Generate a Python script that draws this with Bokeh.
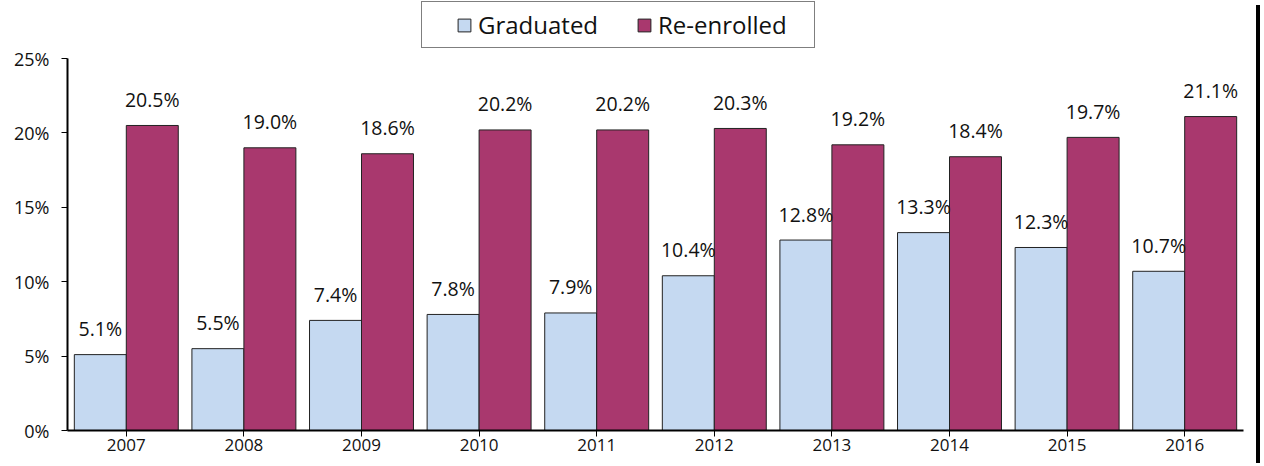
from bokeh.plotting import figure
from bokeh.models import (ColumnDataSource, Legend, LegendItem, PrintfTickFormatter,
                          FixedTicker, FactorRange, Range1d, Div)
from bokeh.transform import dodge
from bokeh.layouts import row
from bokeh.embed import file_html
from bokeh.resources import INLINE
from bokeh.core.properties import value

years = ["2007", "2008", "2009", "2010", "2011", "2012", "2013", "2014", "2015", "2016"]
graduated = [5.1, 5.5, 7.4, 7.8, 7.9, 10.4, 12.8, 13.3, 12.3, 10.7]
reenrolled = [20.5, 19.0, 18.6, 20.2, 20.2, 20.3, 19.2, 18.4, 19.7, 21.1]
series_names = ["Graduated", "Re-enrolled"]
colors = ["#C5D9F1", "#A9386E"]
y_ticks = [0, 5, 10, 15, 20, 25]

FONT = "Open Sans"

src = ColumnDataSource(dict(
    year=years,
    g=graduated,
    r=reenrolled,
    gl=[f"{v:.1f}%" for v in graduated],
    rl=[f"{v:.1f}%" for v in reenrolled],
))

p = figure(
    x_range=FactorRange(factors=years, range_padding=0),
    y_range=Range1d(0, 28.90),
    width=1251, height=458,
    output_backend="svg", toolbar_location=None,
    min_border_left=67, min_border_right=8, min_border_top=0, min_border_bottom=28,
)
p.outline_line_color = None
p.xgrid.grid_line_color = None
p.ygrid.grid_line_color = None
p.background_fill_color = "white"
p.border_fill_color = "white"

bw = 0.442
r1 = p.vbar(x=dodge("year", -bw / 2, range=p.x_range), top="g", width=bw, source=src,
            fill_color=colors[0], line_color="#222222", line_width=1)
r2 = p.vbar(x=dodge("year", bw / 2, range=p.x_range), top="r", width=bw, source=src,
            fill_color=colors[1], line_color="#222222", line_width=1)

for col, lab, off in (("g", "gl", -bw / 2), ("r", "rl", bw / 2)):
    p.text(x=dodge("year", off, range=p.x_range), y=col, text=lab, source=src,
           text_align="center", text_baseline="alphabetic", y_offset=-26,
           text_font=value(FONT), text_font_size="19.5px", text_color="#111111")

# axes
p.yaxis.ticker = FixedTicker(ticks=y_ticks)
p.yaxis.bounds = (0, 25)
p.yaxis.formatter = PrintfTickFormatter(format="%d%%")
for ax in (p.xaxis[0], p.yaxis[0]):
    ax.axis_line_color = "black"
    ax.axis_line_width = 2
    ax.major_tick_line_color = "black"
    ax.major_tick_line_width = 1
    ax.major_tick_in = 0
    ax.major_tick_out = 6
    ax.minor_tick_line_color = None
    ax.major_label_text_font = FONT
    ax.major_label_text_color = "#111111"
p.yaxis.major_label_text_font_size = "18px"
p.xaxis.major_label_text_font_size = "17px"
p.yaxis.major_label_standoff = 12
p.xaxis.major_label_standoff = 2

legend = Legend(
    items=[LegendItem(label=series_names[0], renderers=[r1]),
           LegendItem(label=series_names[1], renderers=[r2])],
    orientation="horizontal",
    location=(354, 382),
    title=" ", title_location="left", title_standoff=2,
    title_text_font_size="22px",
    border_line_color="black", border_line_width=1,
    background_fill_color="white", background_fill_alpha=1,
    label_text_font=FONT, label_text_font_size="24px", label_text_color="#111111",
    glyph_width=16, glyph_height=16, label_standoff=6, spacing=8,
    padding=6, margin=0, label_width=150,
)
p.add_layout(legend)

edge = Div(width=4, height=458, styles={"background-color": "black"})
layout = row(p, edge)

open("out.html", "w").write(file_html(layout, INLINE))
